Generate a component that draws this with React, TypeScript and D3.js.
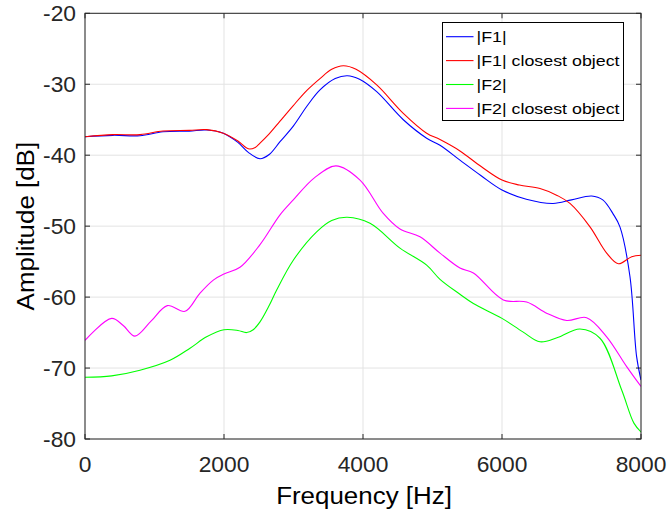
import React from "react";
import * as d3 from "d3";

const xTicks = [0, 2000, 4000, 6000, 8000];
const yTicks = [-80, -70, -60, -50, -40, -30, -20];

const f1Freq = [0, 400, 791, 1122, 1500, 1751, 1990, 2200, 2350, 2518, 2650, 2806, 2997, 3200, 3381, 3600, 3774, 3950, 4197, 4580, 4916, 5108, 5395, 5700, 6000, 6350, 6734, 7000, 7290, 7450, 7600, 7697, 7841, 7937, 8000];
const f1Vals = [-37.4, -37.2, -37.25, -36.7, -36.6, -36.45, -36.9, -38.2, -39.6, -40.5, -39.9, -38.1, -35.9, -33.0, -30.8, -29.2, -28.8, -29.3, -31.05, -35.0, -37.6, -38.6, -40.7, -42.9, -44.9, -46.2, -46.8, -46.3, -45.75, -46.3, -48.3, -50.1, -57.1, -68.4, -71.7];

const f1cFreq = [0, 400, 791, 1122, 1500, 1751, 1990, 2200, 2350, 2450, 2518, 2650, 2806, 2997, 3200, 3381, 3550, 3717, 3900, 4197, 4580, 4916, 5108, 5395, 5700, 6000, 6250, 6547, 6800, 6978, 7266, 7506, 7674, 7866, 8000];
const f1cVals = [-37.4, -37.1, -37.1, -36.6, -36.5, -36.4, -36.9, -38.0, -39.1, -38.9, -38.3, -37.0, -35.2, -33.0, -30.8, -29.2, -27.9, -27.4, -27.9, -30.1, -34.1, -36.9, -37.8, -39.4, -41.6, -43.5, -44.2, -44.7, -45.7, -46.8, -50.1, -53.8, -55.3, -54.3, -54.1];

const f2Freq = [0, 384, 791, 1223, 1511, 1750, 2000, 2200, 2326, 2420, 2518, 2650, 2758, 2997, 3333, 3550, 3774, 4101, 4532, 4916, 5108, 5395, 5588, 6000, 6300, 6547, 6800, 7122, 7410, 7722, 7900, 8000];
const f2Vals = [-71.3, -71.1, -70.3, -68.9, -67.2, -65.6, -64.6, -64.7, -65.0, -64.6, -63.5, -61.2, -59.0, -54.8, -50.8, -49.2, -48.75, -49.6, -53.1, -55.5, -57.5, -59.6, -60.9, -63.0, -64.9, -66.3, -65.7, -64.5, -65.8, -73.1, -77.8, -79.0];

const f2cFreq = [0, 384, 550, 719, 950, 1185, 1439, 1650, 1846, 2000, 2230, 2518, 2806, 2997, 3300, 3611, 3957, 4292, 4532, 4820, 5108, 5395, 5588, 6019, 6355, 6650, 6931, 7218, 7506, 7794, 8000];
const f2cVals = [-66.1, -63.0, -64.0, -65.5, -63.4, -61.2, -62.0, -59.5, -57.6, -56.75, -55.8, -52.6, -48.4, -46.3, -43.2, -41.5, -43.5, -48.2, -50.4, -51.5, -53.8, -55.9, -56.6, -60.4, -60.7, -62.3, -63.3, -62.9, -65.6, -69.8, -72.6];

const seriesNames = ["|F1|", "|F1| closest object", "|F2|", "|F2| closest object"];
const seriesColors = ["#0000ff", "#ff0000", "#00ff00", "#ff00ff"];
const seriesFreqs = [f1Freq, f1cFreq, f2Freq, f2cFreq];
const seriesVals = [f1Vals, f1cVals, f2Vals, f2cVals];

const W = 670;
const H = 513;
const L = 85, R = 641, T = 13.3, B = 439;
const FONT = "'Liberation Sans', Arial, Helvetica, sans-serif";

function SText({ x, y, sx, anchor, size, fill, children, dy }: any) {
  return (
    <g transform={`translate(${x},${y}) scale(${sx},1)`}>
      <text x={0} y={0} dy={dy} textAnchor={anchor} fontSize={size} fill={fill}>
        {children}
      </text>
    </g>
  );
}

export default function App() {
  const x = d3.scaleLinear().domain([0, 8000]).range([L, R]);
  const y = d3.scaleLinear().domain([-80, -20]).range([B, T]);
  const line = d3
    .line<[number, number]>()
    .x((d) => x(d[0]))
    .y((d) => y(d[1]))
    .curve(d3.curveCatmullRom.alpha(0.5));

  const axisColor = "#262626";
  const tickLen = 5;

  return (
    <svg
      width={W}
      height={H}
      style={{ position: "absolute", left: 0, top: 0, background: "#fff" }}
      fontFamily={FONT}
    >
      <rect x={0} y={0} width={W} height={H} fill="#fff" />
      <defs>
        <clipPath id="clip">
          <rect x={L} y={T} width={R - L} height={B - T} />
        </clipPath>
      </defs>
      {xTicks.map((t) => (
        <line key={"gx" + t} x1={x(t)} x2={x(t)} y1={T} y2={B} stroke="#e3e3e3" strokeWidth={1} />
      ))}
      {yTicks.map((t) => (
        <line key={"gy" + t} x1={L} x2={R} y1={y(t)} y2={y(t)} stroke="#e3e3e3" strokeWidth={1} />
      ))}
      <g clipPath="url(#clip)">
        {seriesFreqs.map((fs, i) => (
          <path
            key={"s" + i}
            d={line(fs.map((f, j) => [f, seriesVals[i][j]] as [number, number])) || ""}
            fill="none"
            stroke={seriesColors[i]}
            strokeWidth={1.1}
          />
        ))}
      </g>
      <rect x={L} y={T} width={R - L} height={B - T} fill="none" stroke={axisColor} strokeWidth={1} />
      {xTicks.map((t) => (
        <g key={"tx" + t}>
          <line x1={x(t)} x2={x(t)} y1={B} y2={B - tickLen} stroke={axisColor} />
          <line x1={x(t)} x2={x(t)} y1={T} y2={T + tickLen} stroke={axisColor} />
          <SText x={x(t)} y={472} sx={1.06} anchor="middle" size={21.5} fill={axisColor}>
            {t}
          </SText>
        </g>
      ))}
      {yTicks.map((t) => (
        <g key={"ty" + t}>
          <line x1={L} x2={L + tickLen} y1={y(t)} y2={y(t)} stroke={axisColor} />
          <line x1={R} x2={R - tickLen} y1={y(t)} y2={y(t)} stroke={axisColor} />
          <SText x={76} y={y(t)} dy="0.36em" sx={1.06} anchor="end" size={21.5} fill={axisColor}>
            {t}
          </SText>
        </g>
      ))}
      <SText x={(L + R) / 2 + 1} y={504} sx={1.08} anchor="middle" size={24} fill="#000">
        Frequency [Hz]
      </SText>
      <g transform={`translate(33.5,${(T + B) / 2}) rotate(-90) scale(1.08,1)`}>
        <text x={0} y={0} textAnchor="middle" fontSize={24} fill="#000">
          Amplitude [dB]
        </text>
      </g>
      <rect x={442.5} y={22.5} width={181} height={98} fill="#fff" stroke="#000" strokeWidth={1} />
      {seriesNames.map((n, i) => {
        const ry = 36.7 + i * 23.9;
        return (
          <g key={"lg" + i}>
            <line x1={446} x2={473.5} y1={ry} y2={ry} stroke={seriesColors[i]} strokeWidth={1.1} />
            <SText x={476.5} y={ry} dy="0.36em" sx={1.19} anchor="start" size={15} fill="#000">
              {n}
            </SText>
          </g>
        );
      })}
    </svg>
  );
}
